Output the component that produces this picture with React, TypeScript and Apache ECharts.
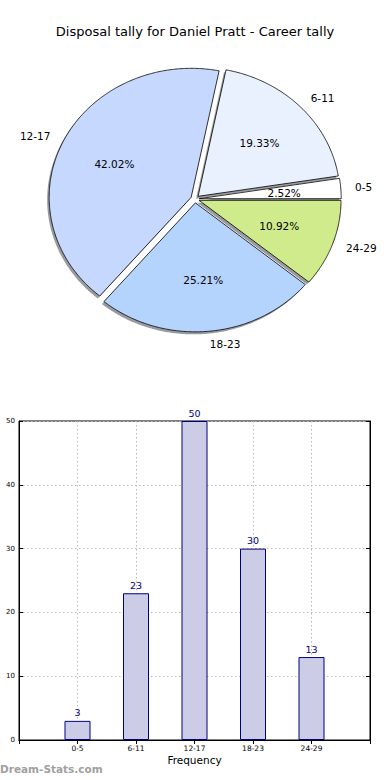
import React, { useEffect, useRef } from "react";
import * as echarts from "echarts";

const TITLE = "Disposal tally for Daniel Pratt - Career tally";
const categories = ["0-5", "6-11", "12-17", "18-23", "24-29"];
const values = [3, 23, 50, 30, 13];
const pieColors = ["#ffffff", "#eaf1fe", "#c6d8fe", "#b4d4fe", "#cfeb8c"];
const yTicks = { min: 0, max: 50, interval: 10 };
const xAxisTitle = "Frequency";
const watermark = "Dream-Stats.com";

const FONT = "DejaVu Sans";
const PIE_CX = 195;
const PIE_CY = 199;
const RX = 142;
const RY = 129;
const EXPLODE = 0.03;

export default function App() {
  const ref = useRef<HTMLDivElement>(null);
  useEffect(() => {
    if (!ref.current) return;
    const chart = echarts.init(ref.current, null, { renderer: "svg" });
    const total = values.reduce((a, b) => a + b, 0);
    const cum: number[] = [];
    let acc = 0;
    values.forEach((v) => {
      cum.push(acc);
      acc += v;
    });

    const renderPie = (params: any, api: any) => {
      const i = params.dataIndex;
      const v = api.value(0);
      const a0 = (cum[i] / total) * 360;
      const a1 = ((cum[i] + v) / total) * 360;
      const mid = ((a0 + a1) / 2) * (Math.PI / 180);
      const ox = PIE_CX + EXPLODE * RX * Math.cos(mid);
      const oy = PIE_CY - EXPLODE * RY * Math.sin(mid);
      const pts: number[][] = [[ox, oy]];
      const steps = Math.max(4, Math.ceil((a1 - a0) * 2));
      for (let k = 0; k <= steps; k++) {
        const a = (a0 + ((a1 - a0) * k) / steps) * (Math.PI / 180);
        pts.push([ox + RX * Math.cos(a), oy - RY * Math.sin(a)]);
      }
      const shadowPts = pts.map((p) => [p[0] - 2, p[1] + 2.5]);
      const lx = ox + 1.1 * RX * Math.cos(mid);
      const ly = oy - 1.1 * RY * Math.sin(mid);
      const px = ox + 0.6 * RX * Math.cos(mid);
      const py = oy - 0.6 * RY * Math.sin(mid);
      const pct = ((v / total) * 100).toFixed(2) + "%";
      return {
        type: "group",
        children: [
          {
            type: "polygon",
            z2: 0,
            shape: { points: shadowPts },
            style: { fill: "rgba(50,55,65,0.5)", stroke: "none" },
          },
          {
            type: "polygon",
            z2: 10,
            shape: { points: pts },
            style: { fill: pieColors[i], stroke: "#000", lineWidth: 0.8 },
          },
          {
            type: "text",
            z2: 20,
            style: {
              text: categories[i],
              x: lx,
              y: ly,
              align: Math.cos(mid) >= 0 ? "left" : "right",
              verticalAlign: "middle",
              fontFamily: FONT,
              fontSize: 10.5,
              fill: "#000",
            },
          },
          {
            type: "text",
            z2: 20,
            style: {
              text: pct,
              x: px,
              y: py,
              align: "center",
              verticalAlign: "middle",
              fontFamily: FONT,
              fontSize: 10.5,
              fill: "#000",
            },
          },
        ],
      };
    };

    const padCats = ["", ...categories, ""];
    const padVals = [null, ...values, null];

    chart.setOption({
      animation: false,
      title: {
        text: TITLE,
        left: "center",
        top: 20,
        textStyle: { fontFamily: FONT, fontSize: 13, fontWeight: "normal", color: "#000" },
      },
      grid: {
        left: 19,
        right: 20,
        top: 421,
        bottom: 40,
        show: true,
        borderColor: "#000",
        borderWidth: 1,
      },
      xAxis: [
        {
          type: "category",
          data: padCats,
          boundaryGap: false,
          position: "bottom",
          name: xAxisTitle,
          nameLocation: "middle",
          nameGap: 14,
          nameTextStyle: { fontFamily: FONT, fontSize: 10.5, color: "#000", verticalAlign: "top" },
          axisLine: { show: true, lineStyle: { color: "#000", width: 1 } },
          axisTick: { show: true, inside: true, length: 4, lineStyle: { color: "#000" }, interval: 0 },
          axisLabel: { fontFamily: FONT, fontSize: 7.5, color: "#000", margin: 4, interval: 0 },
          splitLine: { show: true, interval: 0, lineStyle: { color: "#b8b8b8", type: [1.5, 2.5], width: 1 } },
        },
        {
          type: "category",
          data: padCats,
          boundaryGap: false,
          position: "top",
          axisLine: { show: true, lineStyle: { color: "#000", width: 1 } },
          axisTick: { show: true, inside: true, length: 4, lineStyle: { color: "#000" }, interval: 0 },
          axisLabel: { show: false },
          splitLine: { show: false },
        },
      ],
      yAxis: [
        {
          type: "value",
          min: yTicks.min,
          max: yTicks.max,
          interval: yTicks.interval,
          position: "left",
          axisLine: { show: true, lineStyle: { color: "#000", width: 1 } },
          axisTick: { show: true, inside: true, length: 4, lineStyle: { color: "#000" } },
          axisLabel: { fontFamily: FONT, fontSize: 7, color: "#000", margin: 4 },
          splitLine: { show: true, lineStyle: { color: "#b8b8b8", type: [1.5, 2.5], width: 1 } },
        },
        {
          type: "value",
          min: yTicks.min,
          max: yTicks.max,
          interval: yTicks.interval,
          position: "right",
          axisLine: { show: true, lineStyle: { color: "#000", width: 1 } },
          axisTick: { show: true, inside: true, length: 4, lineStyle: { color: "#000" } },
          axisLabel: { show: false },
          splitLine: { show: false },
        },
      ],
      series: [
        {
          type: "custom",
          coordinateSystem: "none",
          renderItem: renderPie,
          data: values,
          silent: true,
        },
        {
          type: "bar",
          xAxisIndex: 0,
          yAxisIndex: 0,
          data: padVals,
          barWidth: 26,
          itemStyle: { color: "#ccccE6", borderColor: "#000080", borderWidth: 1 },
          label: {
            show: true,
            position: "top",
            distance: 3,
            fontFamily: FONT,
            fontSize: 9.5,
            color: "#000080",
          },
          silent: true,
        },
      ],
      graphic: [
        {
          type: "text",
          left: 0,
          top: 763,
          style: {
            text: watermark,
            fontFamily: FONT,
            fontSize: 10.5,
            fontWeight: "bold",
            fill: "#a0a0a0",
          },
        },
      ],
    });
    return () => chart.dispose();
  }, []);
  return (
    <div
      ref={ref}
      style={{ position: "absolute", left: 0, top: 0, width: 390, height: 780, background: "#fff" }}
    />
  );
}
